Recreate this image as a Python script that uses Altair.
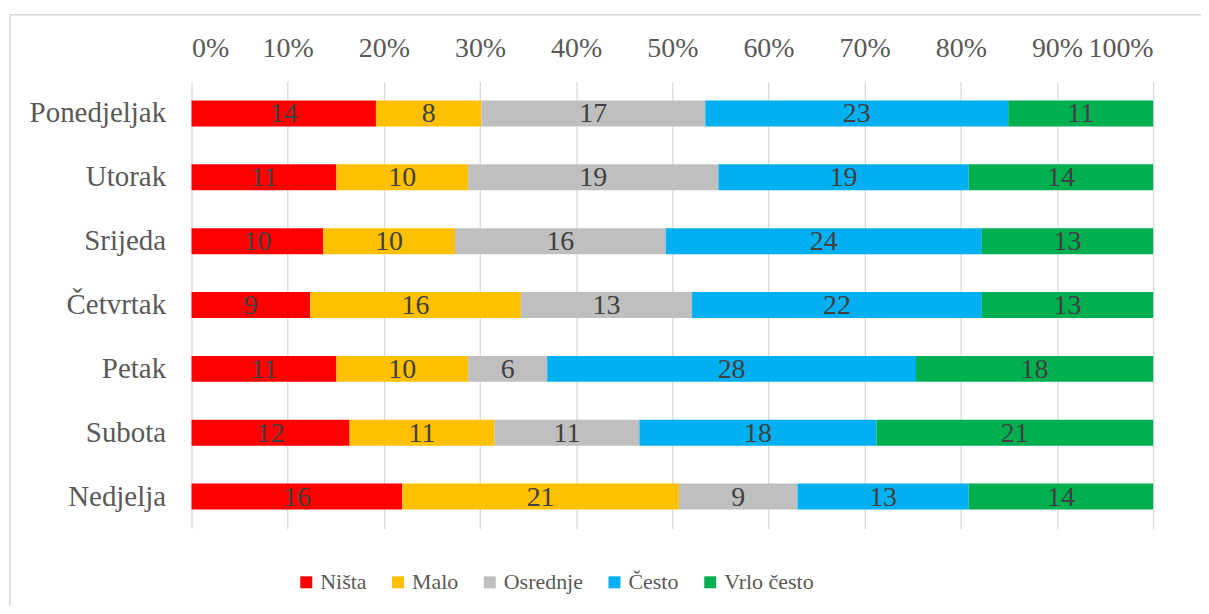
import altair as alt
import pandas as pd

days = ["Ponedjeljak", "Utorak", "Srijeda", "Četvrtak", "Petak", "Subota", "Nedjelja"]
categories = ["Ništa", "Malo", "Osrednje", "Često", "Vrlo često"]
colors = ["#FF0000", "#FFC000", "#BFBFBF", "#00B0F0", "#00B050"]

nista = [14, 11, 10, 9, 11, 12, 16]
malo = [8, 10, 10, 16, 10, 11, 21]
osrednje = [17, 19, 16, 13, 6, 11, 9]
cesto = [23, 19, 24, 22, 28, 18, 13]
vrlo_cesto = [11, 14, 13, 13, 18, 21, 14]

series = [nista, malo, osrednje, cesto, vrlo_cesto]
rows = []
for ci, (cat, vals) in enumerate(zip(categories, series)):
    for d, v in zip(days, vals):
        rows.append({"day": d, "cat": cat, "idx": ci, "value": v})
df = pd.DataFrame(rows)

FONT = "Liberation Serif"

y_axis = alt.Axis(labelFontSize=29, labelColor="#595959", labelFont=FONT,
                  ticks=False, domain=False, labelPadding=26, grid=False, labelLimit=400)
x_axis = alt.Axis(orient="top", format=".0%", values=[i / 10 for i in range(11)],
                  labelFontSize=28, labelColor="#595959", labelFont=FONT,
                  ticks=False, domain=False, labelPadding=19,
                  grid=True, gridColor="#D9D9D9", gridWidth=1.3)
y_scale = alt.Scale(paddingInner=0.59, paddingOuter=0.295)
x_scale = alt.Scale(domain=[0, 1], nice=False)

base = alt.Chart(df)

bars = base.mark_bar(size=26).encode(
    y=alt.Y("day:N", sort=days, title=None, scale=y_scale, axis=y_axis),
    x=alt.X("value:Q", stack="normalize", title=None, scale=x_scale, axis=x_axis),
    color=alt.Color("cat:N", sort=categories,
                    scale=alt.Scale(domain=categories, range=colors),
                    legend=alt.Legend(title=None, orient="none", direction="horizontal",
                                      legendX=104, legendY=491,
                                      symbolType="square", symbolSize=144,
                                      symbolStrokeWidth=0,
                                      labelFontSize=22, labelColor="#595959", labelFont=FONT,
                                      labelOffset=3, columnPadding=20, labelLimit=300)),
    order=alt.Order("idx:Q"),
)

texts = base.transform_joinaggregate(
    total="sum(value)", groupby=["day"]
).transform_window(
    cum="sum(value)", sort=[alt.SortField("idx")], groupby=["day"],
    frame=[None, 0]
).transform_calculate(
    mid="(datum.cum - datum.value / 2) / datum.total"
).mark_text(font=FONT, fontSize=28, color="#404040", baseline="middle", dy=1).encode(
    y=alt.Y("day:N", sort=days, title=None, scale=y_scale, axis=y_axis),
    x=alt.X("mid:Q", title=None, scale=x_scale, axis=x_axis),
    text="value:Q",
)

frame_v = alt.Chart(alt.Data(values=[{}])).mark_rule(color="#D9D9D9", strokeWidth=1.5).encode(
    x=alt.value(-182), y=alt.value(-67), y2=alt.value(540)
)
frame_h = alt.Chart(alt.Data(values=[{}])).mark_rule(color="#D9D9D9", strokeWidth=1.5).encode(
    x=alt.value(-182), x2=alt.value(1012), y=alt.value(-67)
)

chart = alt.layer(bars, texts, frame_v, frame_h).properties(
    width=964, height=448,
    autosize=alt.AutoSizeParams(type="none"),
    padding={"left": 184, "top": 73, "right": 48, "bottom": 77},
).configure_view(stroke=None)

chart.save("out.html", embed_options={"renderer": "svg", "actions": False})
